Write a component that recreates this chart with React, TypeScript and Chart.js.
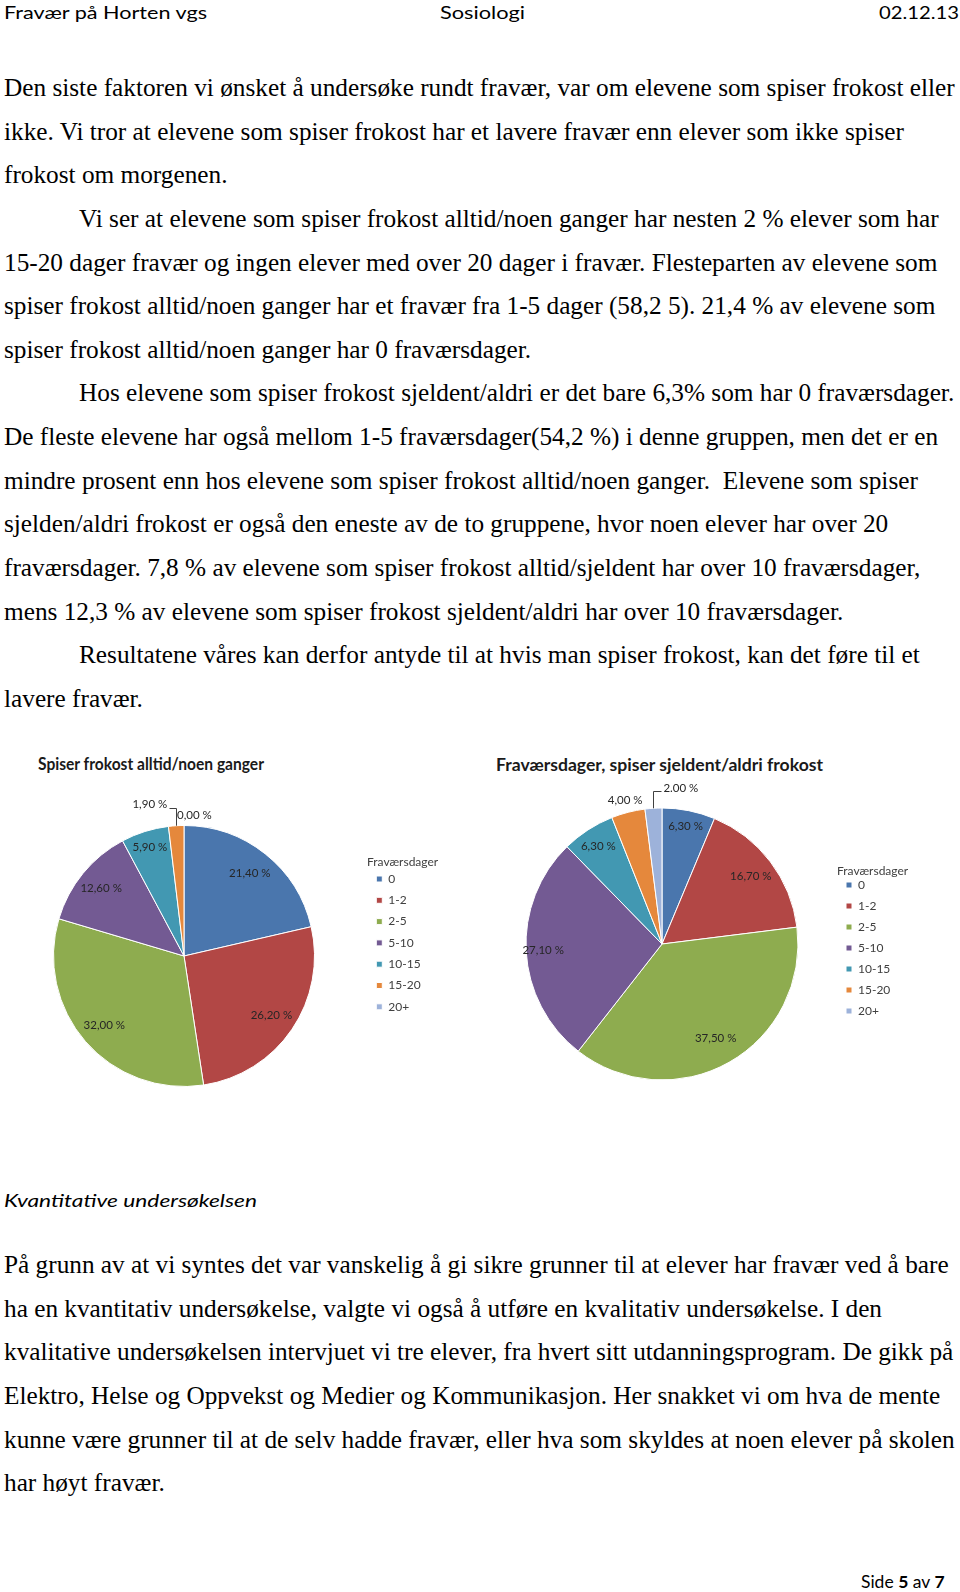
import React, { useEffect, useRef, useMemo } from 'react';
import { Chart, registerables } from 'chart.js';

Chart.register(...registerables);

// ---------- data ----------
const fravaersCategories = ['0', '1-2', '2-5', '5-10', '10-15', '15-20', '20+'];
const alltidValues = [21.4, 26.2, 32.0, 12.6, 5.9, 1.9, 0.0];
const sjeldentValues = [6.3, 16.7, 37.5, 27.1, 6.3, 4.0, 2.0];
const legendTitleText = 'Fraværsdager';
const leftChartTitle = 'Spiser frokost alltid/noen ganger';
const rightChartTitle = 'Fraværsdager, spiser sjeldent/aldri frokost';

const headerLeft = 'Fravær på Horten vgs';
const headerMid = 'Sosiologi';
const headerRight = '02.12.13';
const sectionTitle = 'Kvantitative undersøkelsen';

const para1 = [
  'Den siste faktoren vi ønsket å undersøke rundt fravær, var om elevene som spiser frokost eller',
  'ikke. Vi tror at elevene som spiser frokost har et lavere fravær enn elever som ikke spiser',
  'frokost om morgenen.',
  'Vi ser at elevene som spiser frokost alltid/noen ganger har nesten 2 % elever som har',
  '15-20 dager fravær og ingen elever med over 20 dager i fravær. Flesteparten av elevene som',
  'spiser frokost alltid/noen ganger har et fravær fra 1-5 dager (58,2 5). 21,4 % av elevene som',
  'spiser frokost alltid/noen ganger har 0 fraværsdager.',
  'Hos elevene som spiser frokost sjeldent/aldri er det bare 6,3% som har 0 fraværsdager.',
  'De fleste elevene har også mellom 1-5 fraværsdager(54,2 %) i denne gruppen, men det er en',
  'mindre prosent enn hos elevene som spiser frokost alltid/noen ganger.  Elevene som spiser',
  'sjelden/aldri frokost er også den eneste av de to gruppene, hvor noen elever har over 20',
  'fraværsdager. 7,8 % av elevene som spiser frokost alltid/sjeldent har over 10 fraværsdager,',
  'mens 12,3 % av elevene som spiser frokost sjeldent/aldri har over 10 fraværsdager.',
  'Resultatene våres kan derfor antyde til at hvis man spiser frokost, kan det føre til et',
  'lavere fravær.',
];
const para1Indented = [3, 7, 13];

const para2 = [
  'På grunn av at vi syntes det var vanskelig å gi sikre grunner til at elever har fravær ved å bare',
  'ha en kvantitativ undersøkelse, valgte vi også å utføre en kvalitativ undersøkelse. I den',
  'kvalitative undersøkelsen intervjuet vi tre elever, fra hvert sitt utdanningsprogram. De gikk på',
  'Elektro, Helse og Oppvekst og Medier og Kommunikasjon. Her snakket vi om hva de mente',
  'kunne være grunner til at de selv hadde fravær, eller hva som skyldes at noen elever på skolen',
  'har høyt fravær.',
];

// ---------- styles ----------
const sliceColors = ['#4A76AD', '#B24745', '#8EAC4F', '#735A93', '#4298B2', '#E5883C', '#9DB2DA'];
const labelFont = "11.5px Lato, 'Noto Sans', sans-serif";
const sansFamily = "Lato, 'Noto Sans', sans-serif";
const serifFamily = "'Liberation Serif', 'Times New Roman', serif";
const LEGEND_W = 95;
const LEGEND_FONT = 12;

type Placement =
  | { kind: 'in'; f: number; sep?: string }
  | { kind: 'leader'; up: number; run: number; sep?: string }
  | { kind: 'off'; dx: number; dy: number; sep?: string };

const leftPlacement: Placement[] = [
  { kind: 'in', f: 0.81 },
  { kind: 'in', f: 0.81 },
  { kind: 'in', f: 0.81 },
  { kind: 'in', f: 0.82 },
  { kind: 'in', f: 0.87 },
  { kind: 'leader', up: 18, run: -7 },
  { kind: 'off', dx: -7, dy: -10.5 },
];
const rightPlacement: Placement[] = [
  { kind: 'in', f: 0.88 },
  { kind: 'in', f: 0.82 },
  { kind: 'in', f: 0.8 },
  { kind: 'in', f: 0.875 },
  { kind: 'in', f: 0.86 },
  { kind: 'in', f: 1.09 },
  { kind: 'leader', up: 17, run: 8, sep: '.' },
];

function fmt(v: number, sep: string) {
  return v.toFixed(2).replace('.', sep) + ' %';
}

function makeLabelPlugin(placement: Placement[]) {
  return {
    id: 'pieLabels',
    afterInit(chart: any) {
      const lg = chart.legend;
      if (lg && !lg.__fixedWidth) {
        const orig = lg.fit.bind(lg);
        lg.fit = () => {
          orig();
          lg.width = LEGEND_W;
        };
        lg.__fixedWidth = true;
      }
    },
    afterDatasetsDraw(chart: any) {
      const ctx = chart.ctx as CanvasRenderingContext2D;
      const meta = chart.getDatasetMeta(0);
      const data = chart.data.datasets[0].data as number[];
      ctx.save();
      ctx.font = labelFont;
      ctx.fillStyle = '#262626';
      ctx.strokeStyle = '#404040';
      ctx.lineWidth = 1;
      meta.data.forEach((el: any, i: number) => {
        const p = placement[i];
        if (!p) return;
        const { x, y, startAngle, endAngle, outerRadius } = el.getProps(
          ['x', 'y', 'startAngle', 'endAngle', 'outerRadius'],
          true
        );
        const mid = (startAngle + endAngle) / 2;
        const text = fmt(data[i], p.sep || ',');
        const ex = x + Math.cos(mid) * outerRadius;
        const ey = y + Math.sin(mid) * outerRadius;
        if (p.kind === 'in') {
          ctx.textAlign = 'center';
          ctx.textBaseline = 'middle';
          ctx.fillText(text, x + Math.cos(mid) * outerRadius * p.f, y + Math.sin(mid) * outerRadius * p.f);
        } else if (p.kind === 'leader') {
          const ly = ey - p.up;
          ctx.beginPath();
          ctx.moveTo(Math.round(ex) + 0.5, ey);
          ctx.lineTo(Math.round(ex) + 0.5, Math.round(ly) + 0.5);
          ctx.lineTo(Math.round(ex) + 0.5 + p.run, Math.round(ly) + 0.5);
          ctx.stroke();
          ctx.textBaseline = 'middle';
          if (p.run < 0) {
            ctx.textAlign = 'right';
            ctx.fillText(text, ex + p.run - 2, ly - 3);
          } else {
            ctx.textAlign = 'left';
            ctx.fillText(text, ex + p.run + 2, ly - 3);
          }
        } else {
          ctx.textAlign = 'left';
          ctx.textBaseline = 'middle';
          ctx.fillText(text, ex + p.dx, ey + p.dy);
        }
      });
      ctx.restore();
    },
  };
}

interface PieProps {
  values: number[];
  placement: Placement[];
  left: number;
  top: number;
  width: number;
  height: number;
  padding: { left: number; right: number; top: number; bottom: number };
  legendLabelPadding: number;
  legendTitlePadding: { top: number; bottom: number };
}

function PieChart(props: PieProps) {
  const ref = useRef<HTMLCanvasElement | null>(null);
  useEffect(() => {
    if (!ref.current) return;
    const chart = new Chart(ref.current, {
      type: 'pie',
      data: {
        labels: fravaersCategories,
        datasets: [
          {
            data: props.values,
            backgroundColor: sliceColors,
            borderColor: '#ffffff',
            borderWidth: 1,
          },
        ],
      },
      options: {
        animation: false,
        responsive: false,
        events: [],
        layout: { padding: props.padding },
        plugins: {
          title: { display: false },
          tooltip: { enabled: false },
          legend: {
            position: 'right',
            align: 'start',
            title: {
              display: true,
              text: legendTitleText,
              position: 'start',
              color: '#404040',
              font: { family: sansFamily, size: LEGEND_FONT, lineHeight: 1 },
              padding: props.legendTitlePadding,
            },
            labels: {
              boxWidth: 6,
              boxHeight: 6,
              padding: props.legendLabelPadding,
              color: '#404040',
              font: { family: sansFamily, size: LEGEND_FONT },
            },
          },
        },
      } as any,
      plugins: [makeLabelPlugin(props.placement)],
    });
    return () => chart.destroy();
  }, []);
  return (
    <canvas
      ref={ref}
      width={props.width}
      height={props.height}
      style={{ position: 'absolute', left: props.left, top: props.top, width: props.width, height: props.height }}
    />
  );
}

const BODY_SIZE = 25.3;
const LINE_STEP = 43.64;
const P1_BASE = 96;
const P2_BASE = 1273;
const TARGET_LINE1_WIDTH = 951;

export default function App() {
  useEffect(() => {
    document.body.style.margin = '0';
  }, []);

  const sx = useMemo(() => {
    const c = document.createElement('canvas').getContext('2d');
    if (!c) return 1;
    c.font = `${BODY_SIZE}px ${serifFamily}`;
    const w = c.measureText(para1[0]).width;
    return w > 0 ? TARGET_LINE1_WIDTH / w : 1;
  }, []);

  const bodyText = (t: string, x: number, y: number, key: string) => (
    <text key={key} x={x / sx} y={y} style={{ whiteSpace: 'pre' }}>
      {t}
    </text>
  );

  return (
    <div
      style={{
        position: 'absolute',
        left: 0,
        top: 0,
        width: 960,
        height: 1592,
        background: '#ffffff',
        overflow: 'hidden',
      }}
    >
      <svg width={960} height={1592} style={{ position: 'absolute', left: 0, top: 0 }}>
        <g style={{ fontFamily: sansFamily, fontSize: 18 }} fill="#000">
          <text x={4} y={19} textLength={203} lengthAdjust="spacingAndGlyphs">{headerLeft}</text>
          <text x={440} y={19} textLength={85} lengthAdjust="spacingAndGlyphs">{headerMid}</text>
          <text x={879} y={19} textLength={80} lengthAdjust="spacingAndGlyphs">{headerRight}</text>
        </g>
        <g style={{ fontFamily: serifFamily, fontSize: BODY_SIZE }} fill="#000" transform={`scale(${sx} 1)`}>
          {para1.map((t, i) => bodyText(t, para1Indented.includes(i) ? 79 : 4, P1_BASE + i * LINE_STEP, 'p1' + i))}
          {para2.map((t, i) => bodyText(t, 4, P2_BASE + i * LINE_STEP, 'p2' + i))}
        </g>
        <g style={{ fontFamily: sansFamily, fontSize: 16.5, fontWeight: 'bold' }} fill="#1a1a1a">
          <text x={38} y={770} textLength={226} lengthAdjust="spacingAndGlyphs">{leftChartTitle}</text>
          <text x={496} y={771} textLength={327} lengthAdjust="spacingAndGlyphs">{rightChartTitle}</text>
        </g>
        <text
          x={4}
          y={1207}
          style={{ fontFamily: sansFamily, fontSize: 17.5, fontStyle: 'italic' }}
          fill="#000"
          textLength={253}
          lengthAdjust="spacingAndGlyphs"
        >
          {sectionTitle}
        </text>
        <text x={861} y={1588} style={{ fontFamily: sansFamily, fontSize: 17.5, whiteSpace: 'pre' }} fill="#000">
          <tspan>Side </tspan>
          <tspan fontWeight="bold">5</tspan>
          <tspan> av </tspan>
          <tspan fontWeight="bold">7</tspan>
        </text>
      </svg>
      <PieChart
        values={alltidValues}
        placement={leftPlacement}
        left={0}
        top={800}
        width={470}
        height={300}
        padding={{ left: 1, right: 470 - 367 - LEGEND_W, top: 25, bottom: 13 }}
        legendLabelPadding={9.3}
        legendTitlePadding={{ top: 31, bottom: -4.3 }}
      />
      <PieChart
        values={sjeldentValues}
        placement={rightPlacement}
        left={480}
        top={780}
        width={480}
        height={320}
        padding={{ left: 7, right: 960 - 837 - LEGEND_W, top: 27.5, bottom: 19.5 }}
        legendLabelPadding={9}
        legendTitlePadding={{ top: 57.5, bottom: -7 }}
      />
    </div>
  );
}
